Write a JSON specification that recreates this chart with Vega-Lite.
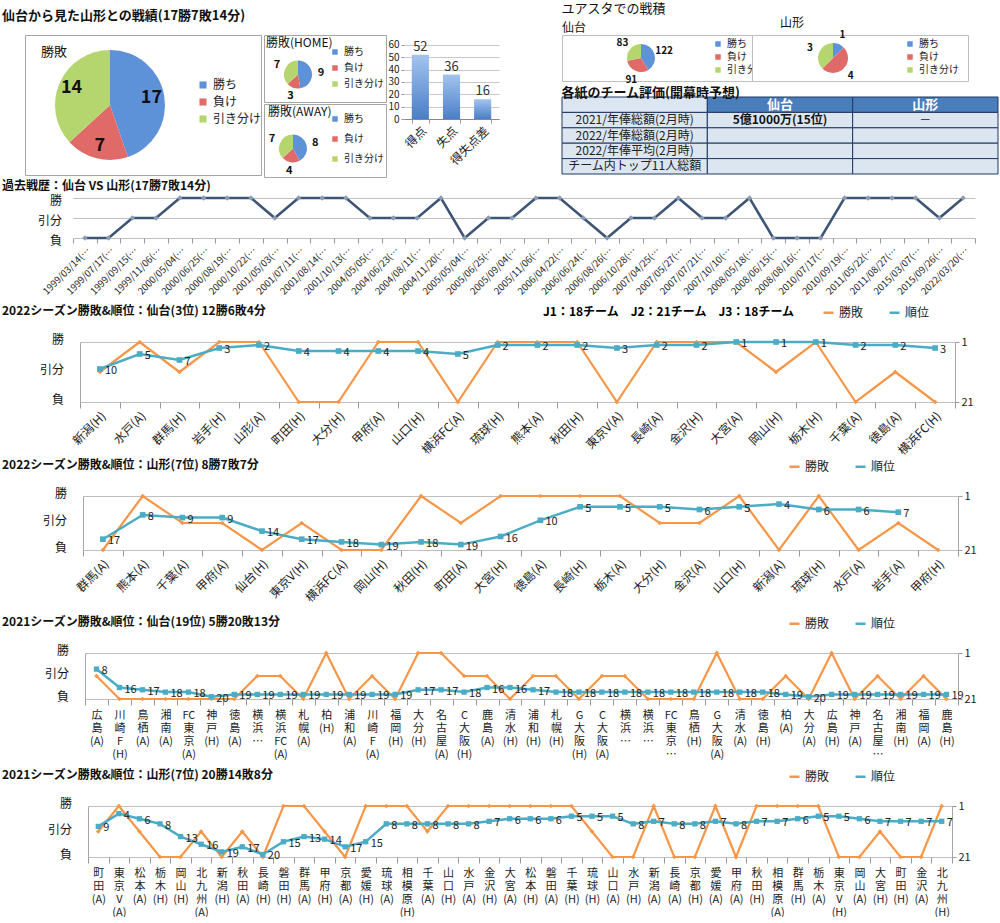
{
"$schema":"https://vega.github.io/schema/vega-lite/v6.json",
"background":"white",
"padding":{"left":2,"top":3,"right":0,"bottom":0},
"spacing":2,
"resolve":{"scale":{"color":"independent"},"legend":{"color":"independent"}},
"config":{
 "font":"Noto Sans CJK JP",
 "view":{"stroke":null},
 "concat":{"spacing":0},
 "title":{"fontSize":12,"fontWeight":"bold","anchor":"start","color":"#111","offset":4},
 "axis":{"labelColor":"#222","domainColor":"#A6A6A6","tickColor":"#999","gridColor":"#C8C8C8"},
 "legend":{"labelColor":"#222","padding":0}
},
"vconcat":[
{"hconcat":[
 {"title":{"text":"仙台から見た山形との戦績(17勝7敗14分)","fontSize":13,"offset":4,"dy":-8},
  "hconcat":[
   {"width":22,"height":140,"data":{"values":[]},"mark":"point"},
   {"width":236,"height":140,
    "view":{"fill":"white","stroke":"#A6A6A6"},
    "title":{"text":"勝敗","fontSize":13,"fontWeight":"normal","offset":-24,"dx":16},
    "data":{"values":[{"o":1,"s":"勝ち","n":17},{"o":2,"s":"負け","n":7},{"o":3,"s":"引き分け","n":14}]},
    "encoding":{
     "theta":{"field":"n","type":"quantitative","stack":true},
     "order":{"field":"o","type":"quantitative"},
     "color":{"field":"s","type":"nominal","scale":{"domain":["勝ち","負け","引き分け"],"range":["#5E92D8","#E06A68","#B5D66F"]},
      "legend":{"orient":"none","legendX":172,"legendY":44,"title":null,"symbolType":"square","symbolSize":50,"labelFontSize":12,"rowPadding":5}}
    },
    "layer":[
     {"mark":{"type":"arc","outerRadius":55,"xOffset":-33}},
     {"mark":{"type":"text","radius":42,"xOffset":-33,"fontSize":18,"fontWeight":"bold"},"encoding":{"text":{"field":"n","type":"quantitative"},"color":{"value":"#111"}}}
    ]},
   {"vconcat":[
     {"width":122,"height":67,
      "view":{"fill":"white","stroke":"#A6A6A6"},
      "title":{"text":"勝敗(HOME)","fontSize":12,"fontWeight":"normal","offset":-15,"dx":2},
      "data":{"values":[{"o":1,"s":"勝ち","n":9},{"o":2,"s":"負け","n":3},{"o":3,"s":"引き分け","n":7}]},
      "encoding":{
       "theta":{"field":"n","type":"quantitative","stack":true},
       "order":{"field":"o","type":"quantitative"},
       "color":{"field":"s","type":"nominal","scale":{"domain":["勝ち","負け","引き分け"],"range":["#5E92D8","#E06A68","#B5D66F"]},
        "legend":{"orient":"none","legendX":66,"legendY":12,"title":null,"symbolType":"square","symbolSize":30,"labelFontSize":10,"rowPadding":6}}
      },
      "layer":[
       {"mark":{"type":"arc","outerRadius":14,"xOffset":-27,"yOffset":6}},
       {"mark":{"type":"text","radius":23,"xOffset":-27,"yOffset":6,"fontSize":11,"fontWeight":"bold"},"encoding":{"text":{"field":"n","type":"quantitative"},"color":{"value":"#111"}}}
      ]},
     {"width":122,"height":73,
      "view":{"fill":"white","stroke":"#A6A6A6"},
      "title":{"text":"勝敗(AWAY)","fontSize":12,"fontWeight":"normal","offset":-15,"dx":4},
      "data":{"values":[{"o":1,"s":"勝ち","n":8},{"o":2,"s":"負け","n":4},{"o":3,"s":"引き分け","n":7}]},
      "encoding":{
       "theta":{"field":"n","type":"quantitative","stack":true},
       "order":{"field":"o","type":"quantitative"},
       "color":{"field":"s","type":"nominal","scale":{"domain":["勝ち","負け","引き分け"],"range":["#5E92D8","#E06A68","#B5D66F"]},
        "legend":{"orient":"none","legendX":66,"legendY":10,"title":null,"symbolType":"square","symbolSize":30,"labelFontSize":10,"rowPadding":10}}
      },
      "layer":[
       {"mark":{"type":"arc","outerRadius":14,"xOffset":-32,"yOffset":8}},
       {"mark":{"type":"text","radius":23,"xOffset":-32,"yOffset":8,"fontSize":11,"fontWeight":"bold"},"encoding":{"text":{"field":"n","type":"quantitative"},"color":{"value":"#111"}}}
      ]}
   ],"spacing":0,"resolve":{"scale":{"color":"independent"},"legend":{"color":"independent"}}},
   {"width":95,"height":84,
    "data":{"values":[{"c":"得点","v":52},{"c":"失点","v":36},{"c":"得失点差","v":16}]},
    "encoding":{
     "x":{"field":"c","type":"nominal","sort":null,"scale":{"paddingInner":0.45,"paddingOuter":0.25},
      "axis":{"title":null,"labelAngle":-45,"labelFontSize":12,"domainColor":"#888","tickBand":"extent","tickSize":4,"labelPadding":2}},
     "y":{"field":"v","type":"quantitative","scale":{"domain":[0,68],"nice":false},
      "axis":{"title":null,"values":[0,10,20,30,40,50,60],"labelFontSize":10,"domain":false,"tickSize":3,"grid":true,"labelPadding":2}}
    },
    "layer":[
     {"mark":{"type":"bar","color":{"gradient":"linear","x1":0,"y1":0,"x2":0,"y2":1,"stops":[{"offset":0,"color":"#A3C4EE"},{"offset":1,"color":"#4A7EC7"}]}}},
     {"mark":{"type":"text","dy":-8,"fontSize":13,"color":"#333"},"encoding":{"text":{"field":"v","type":"quantitative"}}}
    ]}
  ],"resolve":{"scale":{"color":"independent"},"legend":{"color":"independent"}}},
 {"title":{"text":"ユアスタでの戦積","fontSize":13,"fontWeight":"normal","offset":0},
  "vconcat":[
   {"hconcat":[
     {"width":190,"height":46,
      "view":{"fill":"white","stroke":"#BFBFBF"},
      "title":{"text":"仙台","fontSize":12,"fontWeight":"normal","offset":0},
      "data":{"values":[{"o":1,"s":"勝ち","n":122},{"o":2,"s":"負け","n":91},{"o":3,"s":"引き分け","n":83}]},
      "encoding":{
       "theta":{"field":"n","type":"quantitative","stack":true},
       "order":{"field":"o","type":"quantitative"},
       "color":{"field":"s","type":"nominal","scale":{"domain":["勝ち","負け","引き分け"],"range":["#5E92D8","#E06A68","#B5D66F"]},
        "legend":{"orient":"none","legendX":151,"legendY":4,"title":null,"symbolType":"square","symbolSize":30,"labelFontSize":10,"rowPadding":3}}
      },
      "layer":[
       {"mark":{"type":"arc","outerRadius":14,"xOffset":-16}},
       {"mark":{"type":"text","radius":24,"xOffset":-16,"fontSize":10,"fontWeight":"bold"},"encoding":{"text":{"field":"n","type":"quantitative"},"color":{"value":"#111"}}}
      ]},
     {"width":216,"height":46,
      "view":{"fill":"white","stroke":"#BFBFBF"},
      "title":{"text":"山形","fontSize":12,"fontWeight":"normal","offset":0,"dx":28},
      "data":{"values":[{"o":1,"s":"勝ち","n":1},{"o":2,"s":"負け","n":4},{"o":3,"s":"引き分け","n":3}]},
      "encoding":{
       "theta":{"field":"n","type":"quantitative","stack":true},
       "order":{"field":"o","type":"quantitative"},
       "color":{"field":"s","type":"nominal","scale":{"domain":["勝ち","負け","引き分け"],"range":["#5E92D8","#E06A68","#B5D66F"]},
        "legend":{"orient":"none","legendX":153,"legendY":4,"title":null,"symbolType":"square","symbolSize":30,"labelFontSize":10,"rowPadding":3}}
      },
      "layer":[
       {"mark":{"type":"arc","outerRadius":15,"xOffset":-27}},
       {"mark":{"type":"text","radius":25,"xOffset":-27,"fontSize":10,"fontWeight":"bold"},"encoding":{"text":{"field":"n","type":"quantitative"},"color":{"value":"#111"}}}
      ]}
   ],"bounds":"flush","resolve":{"scale":{"color":"independent"},"legend":{"color":"independent"}}},
   {"width":436,"height":77,
    "title":{"text":"各紙のチーム評価(開幕時予想)","fontSize":13,"offset":-3},
    "data":{"values":[
     {"r":"h","c":"0","t":""},{"r":"h","c":"1","t":"仙台"},{"r":"h","c":"2","t":"山形"},
     {"r":"a","c":"0","t":"2021/年俸総額(2月時)"},{"r":"a","c":"1","t":"5億1000万(15位)"},{"r":"a","c":"2","t":"－"},
     {"r":"b","c":"0","t":"2022/年俸総額(2月時)"},{"r":"b","c":"1","t":""},{"r":"b","c":"2","t":""},
     {"r":"c","c":"0","t":"2022/年俸平均(2月時)"},{"r":"c","c":"1","t":""},{"r":"c","c":"2","t":""},
     {"r":"d","c":"0","t":"チーム内トップ11人総額"},{"r":"d","c":"1","t":""},{"r":"d","c":"2","t":""}
    ]},
    "encoding":{
     "x":{"field":"c","type":"nominal","sort":["0","1","2"],"scale":{"paddingInner":0,"paddingOuter":0},"axis":null},
     "y":{"field":"r","type":"nominal","sort":["h","a","b","c","d"],"scale":{"paddingInner":0,"paddingOuter":0},"axis":null}
    },
    "layer":[
     {"mark":{"type":"rect","stroke":"#1F3864","strokeWidth":1},"encoding":{"fill":{"condition":{"test":"datum.r == 'h' && datum.c != '0'","value":"#4A7EBB"},"value":"#DCE6F1"}}},
     {"transform":[{"filter":"datum.r != 'h' && !(datum.r == 'a' && datum.c == '1')"}],"mark":{"type":"text","fontSize":12,"color":"#222"},"encoding":{"text":{"field":"t","type":"nominal"}}},
     {"transform":[{"filter":"datum.r == 'h'"}],"mark":{"type":"text","fontSize":13,"fontWeight":"bold","color":"white"},"encoding":{"text":{"field":"t","type":"nominal"}}},
     {"transform":[{"filter":"datum.r == 'a' && datum.c == '1'"}],"mark":{"type":"text","fontSize":12,"fontWeight":"bold","color":"#111"},"encoding":{"text":{"field":"t","type":"nominal"}}}
    ]}
  ],"spacing":0,"resolve":{"scale":{"color":"independent"},"legend":{"color":"independent"}}}
],"spacing":62,"resolve":{"scale":{"color":"independent"},"legend":{"color":"independent"}}},
{"title":{"text":"過去戦歴：仙台 VS 山形(17勝7敗14分)","offset":0},
 "bounds":"flush","spacing":0,
 "hconcat":[
  {"width":71,"height":40,
   "data":{"values":[{"r":"勝"},{"r":"引分"},{"r":"負"}]},
   "mark":{"type":"text","align":"right","baseline":"middle","fontSize":12,"dx":-11,"dy":3,"color":"#111"},
   "encoding":{"x":{"datum":1,"type":"quantitative","scale":{"domain":[0,1]},"axis":null},
    "y":{"field":"r","type":"ordinal","scale":{"type":"point","domain":["勝","引分","負"],"padding":0},"axis":null},
    "text":{"field":"r","type":"nominal"}}},
  {"width":902,"height":40,
   "data":{"values":[
    {"d":"1999/03/14","r":"負"},{"d":"1999/07/17","r":"負"},{"d":"1999/09/15","r":"引分"},{"d":"1999/11/06","r":"引分"},
    {"d":"2000/05/04","r":"勝"},{"d":"2000/06/25","r":"勝"},{"d":"2000/08/19","r":"勝"},{"d":"2000/10/22","r":"勝"},
    {"d":"2001/05/03","r":"引分"},{"d":"2001/07/11","r":"勝"},{"d":"2001/08/14","r":"勝"},{"d":"2001/10/13","r":"勝"},
    {"d":"2004/05/05","r":"引分"},{"d":"2004/06/23","r":"引分"},{"d":"2004/08/11","r":"引分"},{"d":"2004/11/20","r":"勝"},
    {"d":"2005/05/04","r":"負"},{"d":"2005/06/25","r":"引分"},{"d":"2005/09/04","r":"引分"},{"d":"2005/11/06","r":"勝"},
    {"d":"2006/04/22","r":"勝"},{"d":"2006/06/24","r":"引分"},{"d":"2006/08/26","r":"負"},{"d":"2006/10/28","r":"引分"},
    {"d":"2007/04/25","r":"引分"},{"d":"2007/05/27","r":"勝"},{"d":"2007/07/21","r":"引分"},{"d":"2007/10/10","r":"引分"},
    {"d":"2008/05/18","r":"勝"},{"d":"2008/06/15","r":"負"},{"d":"2008/08/16","r":"負"},{"d":"2010/07/17","r":"負"},
    {"d":"2010/09/19","r":"勝"},{"d":"2011/05/22","r":"勝"},{"d":"2011/08/27","r":"勝"},{"d":"2015/03/07","r":"勝"},
    {"d":"2015/09/26","r":"引分"},{"d":"2022/03/20","r":"勝"}
   ]},
   "encoding":{
    "x":{"field":"d","type":"nominal","sort":null,"scale":{"paddingInner":0,"paddingOuter":0},
     "axis":{"title":null,"labelAngle":-45,"labelFontSize":9.5,"labelExpr":"isValid(datum.value) ? datum.label + '(…' : ''","domain":false,"tickBand":"extent","tickSize":5,"labelPadding":2}},
    "y":{"field":"r","type":"ordinal","scale":{"type":"point","domain":["勝","引分","負"],"padding":0},
     "axis":{"title":null,"domain":false,"ticks":false,"labels":false,"grid":true,"gridColor":"#BFBFBF"}}
   },
   "layer":[
    {"mark":{"type":"line","color":"#3D5475","strokeWidth":2.5}},
    {"mark":{"type":"point","shape":"diamond","filled":true,"color":"#8B9BB4","size":28,"opacity":1}}
   ]}
 ]},
{"width":1,"height":5,"data":{"values":[]},"mark":"point"},
{"title":{"text":"2022シーズン勝敗&順位：仙台(3位) 12勝6敗4分","offset":-12},
 "bounds":"flush","spacing":0,"resolve":{"scale":{"color":"independent"},"legend":{"color":"independent"}},
 "hconcat":[
  {"width":78,"height":60,
   "data":{"values":[{"r":"勝"},{"r":"引分"},{"r":"負"}]},
   "mark":{"type":"text","align":"right","baseline":"middle","fontSize":12,"dx":-16,"dy":-2,"color":"#111"},
   "encoding":{"x":{"datum":1,"type":"quantitative","scale":{"domain":[0,1]},"axis":null},
    "y":{"field":"r","type":"ordinal","scale":{"type":"point","domain":["勝","引分","負"],"padding":0},"axis":null},
    "text":{"field":"r","type":"nominal"}}},
  {"width":875,"height":60,
   "data":{"values":[
    {"m":"新潟(H)","r":"引分","k":10},{"m":"水戸(A)","r":"勝","k":5},{"m":"群馬(H)","r":"引分","k":7},{"m":"岩手(H)","r":"勝","k":3},
    {"m":"山形(A)","r":"勝","k":2},{"m":"町田(H)","r":"負","k":4},{"m":"大分(H)","r":"負","k":4},{"m":"甲府(A)","r":"勝","k":4},
    {"m":"山口(H)","r":"勝","k":4},{"m":"横浜FC(A)","r":"負","k":5},{"m":"琉球(H)","r":"勝","k":2},{"m":"熊本(A)","r":"勝","k":2},
    {"m":"秋田(H)","r":"勝","k":2},{"m":"東京V(A)","r":"負","k":3},{"m":"長崎(A)","r":"勝","k":2},{"m":"金沢(H)","r":"勝","k":2},
    {"m":"大宮(A)","r":"勝","k":1},{"m":"岡山(H)","r":"引分","k":1},{"m":"栃木(H)","r":"勝","k":1},{"m":"千葉(A)","r":"負","k":2},
    {"m":"徳島(A)","r":"引分","k":2},{"m":"横浜FC(H)","r":"負","k":3}
   ]},
   "encoding":{"x":{"field":"m","type":"nominal","sort":null,"scale":{"paddingInner":0,"paddingOuter":0},
    "axis":{"title":null,"labelAngle":-45,"labelFontSize":12,"domain":false,"tickBand":"extent","tickSize":6,"labelPadding":2}}},
   "layer":[
    {"mark":{"type":"line","strokeWidth":2.2,"point":{"shape":"diamond","size":22,"filled":true}},
     "encoding":{
      "y":{"field":"r","type":"ordinal","scale":{"type":"point","domain":["勝","引分","負"],"padding":0},"axis":{"title":null,"labels":false,"ticks":false,"grid":false,"domain":true}},
      "color":{"datum":"勝敗","type":"nominal","scale":{"domain":["勝敗","順位"],"range":["#F79646","#4BACC6"]},
       "legend":{"orient":"none","legendX":463,"legendY":-36,"direction":"horizontal","title":"J1：18チーム　J2：21チーム　J3：18チーム","titleLimit":400,"titleOrient":"left","titleFontSize":12,"titleFontWeight":"bold","titlePadding":26,"labelFontSize":12,"symbolStrokeWidth":2.5,"columnPadding":20}}}},
    {"layer":[
      {"mark":{"type":"line","strokeWidth":2.5,"point":{"shape":"square","size":32,"filled":true}},
       "encoding":{
        "y":{"field":"k","type":"quantitative","scale":{"domain":[1,21],"reverse":true,"nice":false,"zero":false},
         "axis":{"orient":"right","title":null,"values":[1,6,11,16,21],"grid":true,
          "gridColor":{"condition":{"test":"datum.value == 11","value":"#7F7F7F"},"value":"#BFBFBF"},
          "gridWidth":{"condition":{"test":"datum.value == 11","value":3},"value":1},
          "domain":true,"tickSize":4,"labelFontSize":11,"labelPadding":2}},
        "color":{"datum":"順位","type":"nominal"}}},
      {"mark":{"type":"text","align":"left","dx":5,"dy":2,"fontSize":11,"color":"#222"},
       "encoding":{"y":{"field":"k","type":"quantitative"},"text":{"field":"k","type":"quantitative"}}}
    ]}
   ],
   "resolve":{"scale":{"y":"independent"}}}
 ]},
{"title":{"text":"2022シーズン勝敗&順位：山形(7位) 8勝7敗7分","offset":-12},
 "bounds":"flush","spacing":0,"resolve":{"scale":{"color":"independent"},"legend":{"color":"independent"}},
 "hconcat":[
  {"width":81,"height":54,
   "data":{"values":[{"r":"勝"},{"r":"引分"},{"r":"負"}]},
   "mark":{"type":"text","align":"right","baseline":"middle","fontSize":12,"dx":-16,"dy":-2,"color":"#111"},
   "encoding":{"x":{"datum":1,"type":"quantitative","scale":{"domain":[0,1]},"axis":null},
    "y":{"field":"r","type":"ordinal","scale":{"type":"point","domain":["勝","引分","負"],"padding":0},"axis":null},
    "text":{"field":"r","type":"nominal"}}},
  {"width":875,"height":54,
   "data":{"values":[
    {"m":"群馬(A)","r":"負","k":17},{"m":"熊本(A)","r":"勝","k":8},{"m":"千葉(A)","r":"引分","k":9},{"m":"甲府(A)","r":"引分","k":9},
    {"m":"仙台(H)","r":"負","k":14},{"m":"東京V(H)","r":"引分","k":17},{"m":"横浜FC(A)","r":"負","k":18},{"m":"岡山(H)","r":"負","k":19},
    {"m":"秋田(H)","r":"勝","k":18},{"m":"町田(A)","r":"引分","k":19},{"m":"大宮(H)","r":"勝","k":16},{"m":"徳島(A)","r":"勝","k":10},
    {"m":"長崎(H)","r":"勝","k":5},{"m":"栃木(A)","r":"勝","k":5},{"m":"大分(H)","r":"引分","k":5},{"m":"金沢(A)","r":"引分","k":6},
    {"m":"山口(H)","r":"勝","k":5},{"m":"新潟(A)","r":"負","k":4},{"m":"琉球(H)","r":"勝","k":6},{"m":"水戸(A)","r":"負","k":6},
    {"m":"岩手(A)","r":"引分","k":7},{"m":"甲府(H)","r":"負"}
   ]},
   "encoding":{"x":{"field":"m","type":"nominal","sort":null,"scale":{"paddingInner":0,"paddingOuter":0},
    "axis":{"title":null,"labelAngle":-45,"labelFontSize":12,"domain":false,"tickBand":"extent","tickSize":6,"labelPadding":2}}},
   "layer":[
    {"mark":{"type":"line","strokeWidth":2.2,"point":{"shape":"diamond","size":22,"filled":true}},
     "encoding":{
      "y":{"field":"r","type":"ordinal","scale":{"type":"point","domain":["勝","引分","負"],"padding":0},"axis":{"title":null,"labels":false,"ticks":false,"grid":false,"domain":true}},
      "color":{"datum":"勝敗","type":"nominal","scale":{"domain":["勝敗","順位"],"range":["#F79646","#4BACC6"]},
       "legend":{"orient":"none","legendX":705,"legendY":-36,"direction":"horizontal","title":null,"labelFontSize":12,"symbolStrokeWidth":2.5,"columnPadding":20}}}},
    {"layer":[
      {"mark":{"type":"line","strokeWidth":2.5,"point":{"shape":"square","size":32,"filled":true}},
       "encoding":{
        "y":{"field":"k","type":"quantitative","scale":{"domain":[1,21],"reverse":true,"nice":false,"zero":false},
         "axis":{"orient":"right","title":null,"values":[1,6,11,16,21],"grid":true,
          "gridColor":{"condition":{"test":"datum.value == 11","value":"#7F7F7F"},"value":"#BFBFBF"},
          "gridWidth":{"condition":{"test":"datum.value == 11","value":3},"value":1},
          "domain":true,"tickSize":4,"labelFontSize":11,"labelPadding":2}},
        "color":{"datum":"順位","type":"nominal"}}},
      {"mark":{"type":"text","align":"left","dx":5,"dy":2,"fontSize":11,"color":"#222"},
       "encoding":{"y":{"field":"k","type":"quantitative"},"text":{"field":"k","type":"quantitative"}}}
    ]}
   ],
   "resolve":{"scale":{"y":"independent"}}}
 ]},
{"width":1,"height":8,"data":{"values":[]},"mark":"point"},
{"title":{"text":"2021シーズン勝敗&順位：仙台(19位) 5勝20敗13分","offset":-12},
 "bounds":"flush","spacing":0,"resolve":{"scale":{"color":"independent"},"legend":{"color":"independent"}},
 "hconcat":[
  {"width":83,"height":46,
   "data":{"values":[{"r":"勝"},{"r":"引分"},{"r":"負"}]},
   "mark":{"type":"text","align":"right","baseline":"middle","fontSize":12,"dx":-16,"dy":-2,"color":"#111"},
   "encoding":{"x":{"datum":1,"type":"quantitative","scale":{"domain":[0,1]},"axis":null},
    "y":{"field":"r","type":"ordinal","scale":{"type":"point","domain":["勝","引分","負"],"padding":0},"axis":null},
    "text":{"field":"r","type":"nominal"}}},
  {"width":873,"height":46,
   "data":{"values":[
    {"m":"広島(A)","r":"引分","k":8},{"m":"川崎F(H)","r":"負","k":16},{"m":"鳥栖(A)","r":"負","k":17},{"m":"湘南(A)","r":"負","k":18},
    {"m":"FC東京(A)","r":"負","k":18},{"m":"神戸(H)","r":"負","k":20},{"m":"徳島(A)","r":"負","k":19},{"m":"横浜FM(H)","r":"引分","k":19},
    {"m":"横浜FC(A)","r":"引分","k":19},{"m":"札幌(A)","r":"負","k":19},{"m":"柏(H)","r":"勝","k":19},{"m":"浦和(A)","r":"負","k":19},
    {"m":"川崎F(A)","r":"引分","k":19},{"m":"福岡(H)","r":"負","k":19},{"m":"大分(H)","r":"勝","k":17},{"m":"名古屋(A)","r":"勝","k":17},
    {"m":"C大阪(H)","r":"引分","k":18},{"m":"鹿島(A)","r":"引分","k":16},{"m":"清水(H)","r":"負","k":16},{"m":"浦和(H)","r":"引分","k":17},
    {"m":"札幌(H)","r":"引分","k":18},{"m":"G大阪(H)","r":"負","k":18},{"m":"C大阪(A)","r":"引分","k":18},{"m":"横浜FC(H)","r":"引分","k":18},
    {"m":"横浜FM(A)","r":"負","k":18},{"m":"FC東京(H)","r":"負","k":18},{"m":"鳥栖(H)","r":"負","k":18},{"m":"G大阪(A)","r":"勝","k":18},
    {"m":"清水(A)","r":"負","k":18},{"m":"徳島(H)","r":"負","k":18},{"m":"柏(A)","r":"引分","k":19},{"m":"大分(A)","r":"負","k":20},
    {"m":"広島(H)","r":"勝","k":19},{"m":"神戸(A)","r":"負","k":19},{"m":"名古屋(H)","r":"引分","k":19},{"m":"湘南(H)","r":"負","k":19},
    {"m":"福岡(A)","r":"引分","k":19},{"m":"鹿島(H)","r":"負","k":19}
   ]},
   "encoding":{"x":{"field":"m","type":"nominal","sort":null,"scale":{"paddingInner":0,"paddingOuter":0},
    "axis":{"title":null,"labelAngle":0,"labelAlign":"center","labelBaseline":"top","labelLineHeight":13,"labelFontSize":11,"domain":false,"tickBand":"extent","tickSize":6,"labelPadding":4,
     "labelExpr":"isValid(datum.value) ? split(replace(replace(replace((datum.value == '横浜FM(H)' || datum.value == '横浜FC(H)' || datum.value == '横浜FM(A)') ? '横浜…' : (datum.value == 'FC東京(H)' ? 'FC東京…' : (datum.value == '名古屋(H)' ? '名古屋…' : datum.value)), regexp('([ -~])(?=[^ -~])', 'g'), '$1|'), regexp('([^ -~])(?=.)', 'g'), '$1|'), regexp('([^|])(?=[(])', 'g'), '$1|'), '|') : ''"}}},
   "layer":[
    {"mark":{"type":"line","strokeWidth":2.2,"point":{"shape":"diamond","size":22,"filled":true}},
     "encoding":{
      "y":{"field":"r","type":"ordinal","scale":{"type":"point","domain":["勝","引分","負"],"padding":0},"axis":{"title":null,"labels":false,"ticks":false,"grid":false,"domain":true}},
      "color":{"datum":"勝敗","type":"nominal","scale":{"domain":["勝敗","順位"],"range":["#F79646","#4BACC6"]},
       "legend":{"orient":"none","legendX":703,"legendY":-36,"direction":"horizontal","title":null,"labelFontSize":12,"symbolStrokeWidth":2.5,"columnPadding":20}}}},
    {"layer":[
      {"mark":{"type":"line","strokeWidth":2.5,"point":{"shape":"square","size":28,"filled":true}},
       "encoding":{
        "y":{"field":"k","type":"quantitative","scale":{"domain":[1,21],"reverse":true,"nice":false,"zero":false},
         "axis":{"orient":"right","title":null,"values":[1,6,11,16,21],"grid":true,
          "gridColor":{"condition":{"test":"datum.value == 11","value":"#7F7F7F"},"value":"#BFBFBF"},
          "gridWidth":{"condition":{"test":"datum.value == 11","value":3},"value":1},
          "domain":true,"tickSize":4,"labelFontSize":11,"labelPadding":2}},
        "color":{"datum":"順位","type":"nominal"}}},
      {"mark":{"type":"text","align":"left","dx":5,"dy":2,"fontSize":11,"color":"#222"},
       "encoding":{"y":{"field":"k","type":"quantitative"},"text":{"field":"k","type":"quantitative"}}}
    ]}
   ],
   "resolve":{"scale":{"y":"independent"}}}
 ]},
{"width":1,"height":6,"data":{"values":[]},"mark":"point"},
{"title":{"text":"2021シーズン勝敗&順位：山形(7位) 20勝14敗8分","offset":-12},
 "bounds":"flush","spacing":0,"resolve":{"scale":{"color":"independent"},"legend":{"color":"independent"}},
 "hconcat":[
  {"width":86,"height":51,
   "data":{"values":[{"r":"勝"},{"r":"引分"},{"r":"負"}]},
   "mark":{"type":"text","align":"right","baseline":"middle","fontSize":12,"dx":-16,"dy":-2,"color":"#111"},
   "encoding":{"x":{"datum":1,"type":"quantitative","scale":{"domain":[0,1]},"axis":null},
    "y":{"field":"r","type":"ordinal","scale":{"type":"point","domain":["勝","引分","負"],"padding":0},"axis":null},
    "text":{"field":"r","type":"nominal"}}},
  {"width":864,"height":51,
   "data":{"values":[
    {"m":"町田(A)","r":"引分","k":9},{"m":"東京V(A)","r":"勝","k":4},{"m":"松本(A)","r":"引分","k":6},{"m":"栃木(H)","r":"負","k":8},
    {"m":"岡山(H)","r":"負","k":13},{"m":"北九州(A)","r":"引分","k":16},{"m":"新潟(H)","r":"負","k":19},{"m":"秋田(A)","r":"引分","k":17},
    {"m":"長崎(H)","r":"負","k":20},{"m":"磐田(H)","r":"勝","k":15},{"m":"群馬(A)","r":"勝","k":13},{"m":"甲府(H)","r":"引分","k":14},
    {"m":"京都(A)","r":"負","k":17},{"m":"愛媛(H)","r":"勝","k":15},{"m":"琉球(A)","r":"勝","k":8},{"m":"相模原(H)","r":"勝","k":8},
    {"m":"千葉(A)","r":"引分","k":8},{"m":"山口(H)","r":"勝","k":8},{"m":"水戸(A)","r":"勝","k":8},{"m":"金沢(H)","r":"勝","k":7},
    {"m":"大宮(A)","r":"勝","k":6},{"m":"松本(H)","r":"勝","k":6},{"m":"磐田(A)","r":"勝","k":6},{"m":"千葉(H)","r":"勝","k":5},
    {"m":"琉球(H)","r":"引分","k":5},{"m":"山口(A)","r":"負","k":5},{"m":"水戸(H)","r":"負","k":8},{"m":"新潟(A)","r":"勝","k":7},
    {"m":"長崎(A)","r":"負","k":8},{"m":"京都(H)","r":"負","k":8},{"m":"愛媛(A)","r":"勝","k":7},{"m":"甲府(A)","r":"負","k":8},
    {"m":"秋田(H)","r":"勝","k":7},{"m":"相模原(A)","r":"勝","k":7},{"m":"群馬(H)","r":"勝","k":6},{"m":"栃木(A)","r":"勝","k":5},
    {"m":"東京V(H)","r":"負","k":5},{"m":"岡山(A)","r":"負","k":6},{"m":"大宮(H)","r":"引分","k":7},{"m":"町田(H)","r":"負","k":7},
    {"m":"金沢(A)","r":"負","k":7},{"m":"北九州(H)","r":"勝","k":7}
   ]},
   "encoding":{"x":{"field":"m","type":"nominal","sort":null,"scale":{"paddingInner":0,"paddingOuter":0},
    "axis":{"title":null,"labelAngle":0,"labelAlign":"center","labelBaseline":"top","labelLineHeight":13,"labelFontSize":11,"domain":false,"tickBand":"extent","tickSize":6,"labelPadding":4,
     "labelExpr":"isValid(datum.value) ? split(replace(replace(replace(datum.value, regexp('([ -~])(?=[^ -~])', 'g'), '$1|'), regexp('([^ -~])(?=.)', 'g'), '$1|'), regexp('([^|])(?=[(])', 'g'), '$1|'), '|') : ''"}}},
   "layer":[
    {"mark":{"type":"line","strokeWidth":2.2,"point":{"shape":"diamond","size":22,"filled":true}},
     "encoding":{
      "y":{"field":"r","type":"ordinal","scale":{"type":"point","domain":["勝","引分","負"],"padding":0},"axis":{"title":null,"labels":false,"ticks":false,"grid":false,"domain":true}},
      "color":{"datum":"勝敗","type":"nominal","scale":{"domain":["勝敗","順位"],"range":["#F79646","#4BACC6"]},
       "legend":{"orient":"none","legendX":700,"legendY":-36,"direction":"horizontal","title":null,"labelFontSize":12,"symbolStrokeWidth":2.5,"columnPadding":20}}}},
    {"layer":[
      {"mark":{"type":"line","strokeWidth":2.5,"point":{"shape":"square","size":28,"filled":true}},
       "encoding":{
        "y":{"field":"k","type":"quantitative","scale":{"domain":[1,21],"reverse":true,"nice":false,"zero":false},
         "axis":{"orient":"right","title":null,"values":[1,6,11,16,21],"grid":true,
          "gridColor":{"condition":{"test":"datum.value == 11","value":"#7F7F7F"},"value":"#BFBFBF"},
          "gridWidth":{"condition":{"test":"datum.value == 11","value":3},"value":1},
          "domain":true,"tickSize":4,"labelFontSize":11,"labelPadding":2}},
        "color":{"datum":"順位","type":"nominal"}}},
      {"mark":{"type":"text","align":"left","dx":5,"dy":2,"fontSize":11,"color":"#222"},
       "encoding":{"y":{"field":"k","type":"quantitative"},"text":{"field":"k","type":"quantitative"}}}
    ]}
   ],
   "resolve":{"scale":{"y":"independent"}}}
 ]}
]
}
